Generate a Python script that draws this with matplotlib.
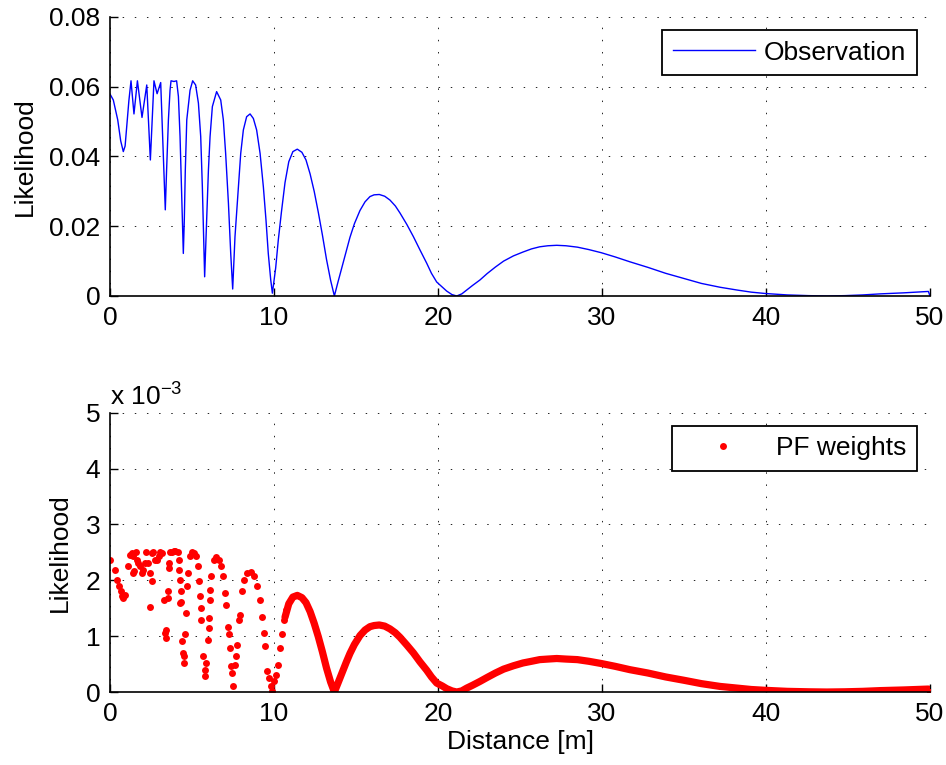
import numpy as np
import matplotlib
matplotlib.use("Agg")
import matplotlib.pyplot as plt
from matplotlib.ticker import FuncFormatter

plt.rcParams['font.family'] = ['Liberation Sans', 'DejaVu Sans']
plt.rcParams['mathtext.fontset'] = 'custom'
plt.rcParams['mathtext.rm'] = 'Liberation Sans'

FS = 19

# observation likelihood vs distance
obs_dist = [0, 0.2, 0.47, 0.65, 0.81, 0.92, 1.02, 1.15, 1.28, 1.46,
            1.67, 1.95, 2.24, 2.46, 2.68, 2.87, 3.09, 3.37, 3.45, 3.56,
            3.66, 3.72, 3.90, 4.06, 4.17, 4.27, 4.37, 4.47, 4.53, 4.59,
            4.68, 4.88, 5.04, 5.22, 5.39, 5.53, 5.63, 5.77, 5.89, 6.0,
            6.10, 6.24, 6.50, 6.75, 6.91, 7.05, 7.22, 7.36, 7.48, 7.62,
            7.83, 7.97, 8.13, 8.33, 8.54, 8.74, 8.94, 9.15, 9.35, 9.51,
            9.65, 9.80, 9.90, 10.1, 10.26, 10.45, 10.67, 10.9, 11.15, 11.42,
            11.7, 11.95, 12.2, 12.45, 12.7, 12.95, 13.2, 13.45, 13.68, 13.9,
            14.13, 14.4, 14.63, 14.9, 15.24, 15.55, 15.85, 16.1, 16.42, 16.75,
            17.07, 17.4, 17.68, 18.1, 18.5, 18.9, 19.31, 19.6, 19.92, 20.25,
            20.53, 20.85, 21.14, 21.45, 21.75, 22.1, 22.56, 22.99, 23.5, 24.0,
            24.6, 25.18, 25.7, 26.2, 26.7, 27.24, 27.8, 28.5, 29.2, 29.96,
            30.8, 31.7, 32.8, 33.88, 35.0, 36.06, 37.2, 38.24, 39.1, 39.98,
            41.3, 42.6, 43.7, 44.8, 45.9, 46.95, 48.4, 49.9, 50.0]
obs_lik = [0.0579, 0.0562, 0.0505, 0.0445, 0.0414, 0.0430, 0.0486, 0.0560, 0.0617, 0.0522,
           0.0617, 0.0512, 0.0605, 0.039, 0.0617, 0.058, 0.0612, 0.0247, 0.0361, 0.0505,
           0.0590, 0.0617, 0.0615, 0.0617, 0.0572, 0.0457, 0.0285, 0.0122, 0.0218, 0.0360,
           0.0505, 0.0590, 0.0617, 0.0605, 0.0553, 0.0457, 0.0313, 0.0055, 0.0218, 0.0361,
           0.0457, 0.0543, 0.0586, 0.0562, 0.0505, 0.0409, 0.0266, 0.0122, 0.002, 0.0170,
           0.0313, 0.0409, 0.0476, 0.0514, 0.0522, 0.0509, 0.0476, 0.0409, 0.0313, 0.0218,
           0.0122, 0.0046, 0.0008, 0.0080, 0.0160, 0.0240, 0.0325, 0.0385, 0.0414, 0.0421,
           0.0412, 0.0390, 0.0350, 0.0300, 0.0240, 0.0175, 0.0105, 0.0045, 0.0, 0.0040,
           0.0080, 0.0128, 0.0168, 0.0207, 0.0245, 0.0270, 0.0285, 0.0290, 0.0291, 0.0286,
           0.0275, 0.0258, 0.0238, 0.0205, 0.0170, 0.0132, 0.0094, 0.0065, 0.0040, 0.0026,
           0.0014, 0.0004, 0.0, 0.0006, 0.0017, 0.0030, 0.0046, 0.0064, 0.0083, 0.0100,
           0.0115, 0.0126, 0.0135, 0.0141, 0.0144, 0.01453, 0.0144, 0.0140, 0.0133, 0.0124,
           0.0112, 0.0098, 0.0082, 0.0065, 0.0050, 0.0036, 0.0025, 0.0017, 0.0011, 0.0007,
           0.0003, 0.0001, 0.0, 0.0001, 0.0003, 0.0006, 0.0009, 0.0013, 0.0]

# sparse particles near the sensor (weights in units of 1e-3)
pf_dist = [0, 0.31, 0.45, 0.57, 0.65, 0.71, 0.82, 0.92,
           1.12, 1.22, 1.33, 1.43, 1.43, 1.49, 1.59, 1.63, 1.73, 1.84, 1.94, 2.04, 2.14, 2.20,
           2.31, 2.41, 2.45, 2.55, 2.55, 2.65, 2.76, 2.86, 2.96, 3.06, 3.16,
           3.27, 3.37, 3.41, 3.43, 3.53, 3.53, 3.57, 3.61, 3.67, 3.78, 3.88, 3.98, 4.12, 4.18,
           4.22, 4.29, 4.29, 4.33, 4.35, 4.39, 4.45, 4.49, 4.53, 4.59, 4.63, 4.69, 4.73, 4.86,
           5.0, 5.14, 5.27, 5.35, 5.45, 5.51, 5.57, 5.57, 5.67, 5.78, 5.82, 5.88, 5.96, 6.02,
           6.02, 6.08, 6.12, 6.18, 6.33, 6.49, 6.63, 6.78, 6.90, 7.04, 7.10, 7.18, 7.24, 7.29,
           7.35, 7.41, 7.51, 7.65, 7.69, 7.76, 7.86, 7.92, 8.06, 8.16, 8.37, 8.57, 8.78, 8.98,
           9.14, 9.24, 9.39, 9.45, 9.59, 9.69, 9.84, 9.90, 10.0, 10.14, 10.27, 10.37, 10.51,
           10.61, 10.71, 50.0]
pf_w = [2.37, 2.19, 2.01, 1.89, 1.80, 1.71, 1.68, 1.74,
        2.25, 2.46, 2.49, 2.43, 2.13, 2.16, 2.51, 2.37, 2.31, 2.25, 2.13, 2.19, 2.31, 2.51,
        2.31, 2.13, 1.53, 1.98, 2.49, 2.51, 2.37, 2.37, 2.43, 2.51, 2.49,
        1.65, 1.05, 1.11, 0.97, 1.68, 1.80, 2.22, 2.31, 2.51, 2.51, 2.53, 2.53, 2.51, 2.37,
        2.19, 2.01, 1.59, 1.80, 1.62, 0.91, 0.70, 0.52, 0.64, 1.03, 1.41, 1.89, 2.13, 2.43,
        2.51, 2.49, 2.43, 2.25, 1.98, 1.71, 1.50, 1.29, 0.64, 0.40, 0.28, 0.52, 0.94, 1.14,
        1.32, 1.65, 1.83, 2.07, 2.37, 2.41, 2.37, 2.25, 2.07, 1.77, 1.56, 1.17, 1.03, 0.79,
        0.46, 0.34, 0.11, 0.49, 0.64, 0.85, 1.29, 1.38, 1.80, 2.01, 2.13, 2.14, 2.07, 1.89,
        1.65, 1.35, 1.05, 0.82, 0.37, 0.25, 0.10, 0.01, 0.19, 0.31, 0.49, 0.79, 1.03,
        1.29, 1.47, 0.0]

# dense particle band further out (weights in units of 1e-3)
band_dist = [10.67, 10.9, 11.15, 11.42, 11.7, 11.95, 12.2, 12.45, 12.7, 12.95,
             13.2, 13.45, 13.68, 13.9, 14.13, 14.4, 14.63, 14.9, 15.24, 15.55,
             15.85, 16.1, 16.42, 16.75, 17.07, 17.4, 17.68, 18.1, 18.5, 18.9,
             19.31, 19.6, 19.92, 20.25, 20.53, 20.85, 21.14, 21.45, 21.75, 22.1,
             22.56, 22.99, 23.5, 24.0, 24.6, 25.18, 25.7, 26.2, 26.7, 27.24,
             27.8, 28.5, 29.2, 29.96, 30.8, 31.7, 32.8, 33.88, 35.0, 36.06,
             37.2, 38.24, 39.1, 39.98, 41.3, 42.6, 43.7, 44.8, 45.9, 46.95,
             48.4, 49.9]
band_w = [1.34, 1.58, 1.70, 1.73, 1.69, 1.60, 1.44, 1.23, 0.99, 0.72,
          0.43, 0.18, 0.0, 0.16, 0.33, 0.53, 0.69, 0.85, 1.01, 1.11,
          1.17, 1.19, 1.20, 1.18, 1.13, 1.06, 0.98, 0.84, 0.70, 0.54,
          0.39, 0.27, 0.16, 0.11, 0.06, 0.02, 0.0, 0.02, 0.07, 0.12,
          0.19, 0.26, 0.34, 0.41, 0.47, 0.52, 0.55, 0.58, 0.59, 0.60,
          0.59, 0.58, 0.55, 0.51, 0.46, 0.40, 0.34, 0.27, 0.21, 0.15,
          0.10, 0.07, 0.045, 0.03, 0.012, 0.004, 0.0, 0.004, 0.012, 0.025,
          0.037, 0.053]

fig = plt.figure(figsize=(9.46, 7.65), dpi=100)
ax1 = fig.add_axes([0.1163, 0.6131, 0.8668, 0.3647])
ax2 = fig.add_axes([0.1163, 0.0954, 0.8668, 0.3651])

grid_style = dict(color='#222222', linestyle=(0, (1.5, 11)), linewidth=0.7)

for ax in (ax1, ax2):
    ax.spines['top'].set_visible(False)
    ax.spines['right'].set_visible(False)
    ax.spines['left'].set_linewidth(1.2)
    ax.spines['bottom'].set_linewidth(1.2)
    ax.tick_params(direction='in', length=6, width=1, labelsize=FS, pad=7)
    ax.set_xlim(0, 50)
    ax.set_xticks([0, 10, 20, 30, 40, 50])
    ax.grid(True, **grid_style)
    ax.set_axisbelow(True)

# top: observation likelihood
ax1.plot(obs_dist, obs_lik, color='#0000ff', linewidth=1.0, label='Observation')
ax1.set_ylim(0, 0.08)
ax1.set_yticks([0, 0.02, 0.04, 0.06, 0.08])
ax1.set_yticklabels(['0', '0.02', '0.04', '0.06', '0.08'])
ax1.set_ylabel('Likelihood', fontsize=FS, labelpad=9)
leg1 = ax1.legend(loc='upper right', fontsize=FS, frameon=True, fancybox=False,
                  edgecolor='black', framealpha=1, handlelength=3.1, handletextpad=0.35,
                  borderpad=0.4, borderaxespad=0.5)
leg1.get_frame().set_linewidth(1.3)

# bottom: particle filter weights
ax2.plot(band_dist, np.array(band_w) * 1e-3, color='#ff0000', linewidth=5.2,
         solid_capstyle='round', solid_joinstyle='round')
ax2.plot(pf_dist, np.array(pf_w) * 1e-3, linestyle='none', marker='o', markersize=5,
         color='#ff0000', markeredgewidth=0, label='PF weights')
ax2.set_ylim(0, 5e-3)
ax2.set_yticks([0, 1e-3, 2e-3, 3e-3, 4e-3, 5e-3])
ax2.yaxis.set_major_formatter(FuncFormatter(lambda v, p: '%d' % round(v * 1e3)))
ax2.set_ylabel('Likelihood', fontsize=FS, labelpad=10)
ax2.set_xlabel('Distance [m]', fontsize=FS, labelpad=3)
ax2.text(0.0, 1.012, r'x 10$^{-3}$', transform=ax2.transAxes, fontsize=FS,
         ha='left', va='bottom')
leg2 = ax2.legend(loc='upper right', fontsize=FS, frameon=True, fancybox=False,
                  edgecolor='black', framealpha=1, handlelength=3.1, handletextpad=0.45,
                  borderpad=0.4, borderaxespad=0.5)
leg2.get_frame().set_linewidth(1.3)

fig.savefig('out.png', dpi=100)
